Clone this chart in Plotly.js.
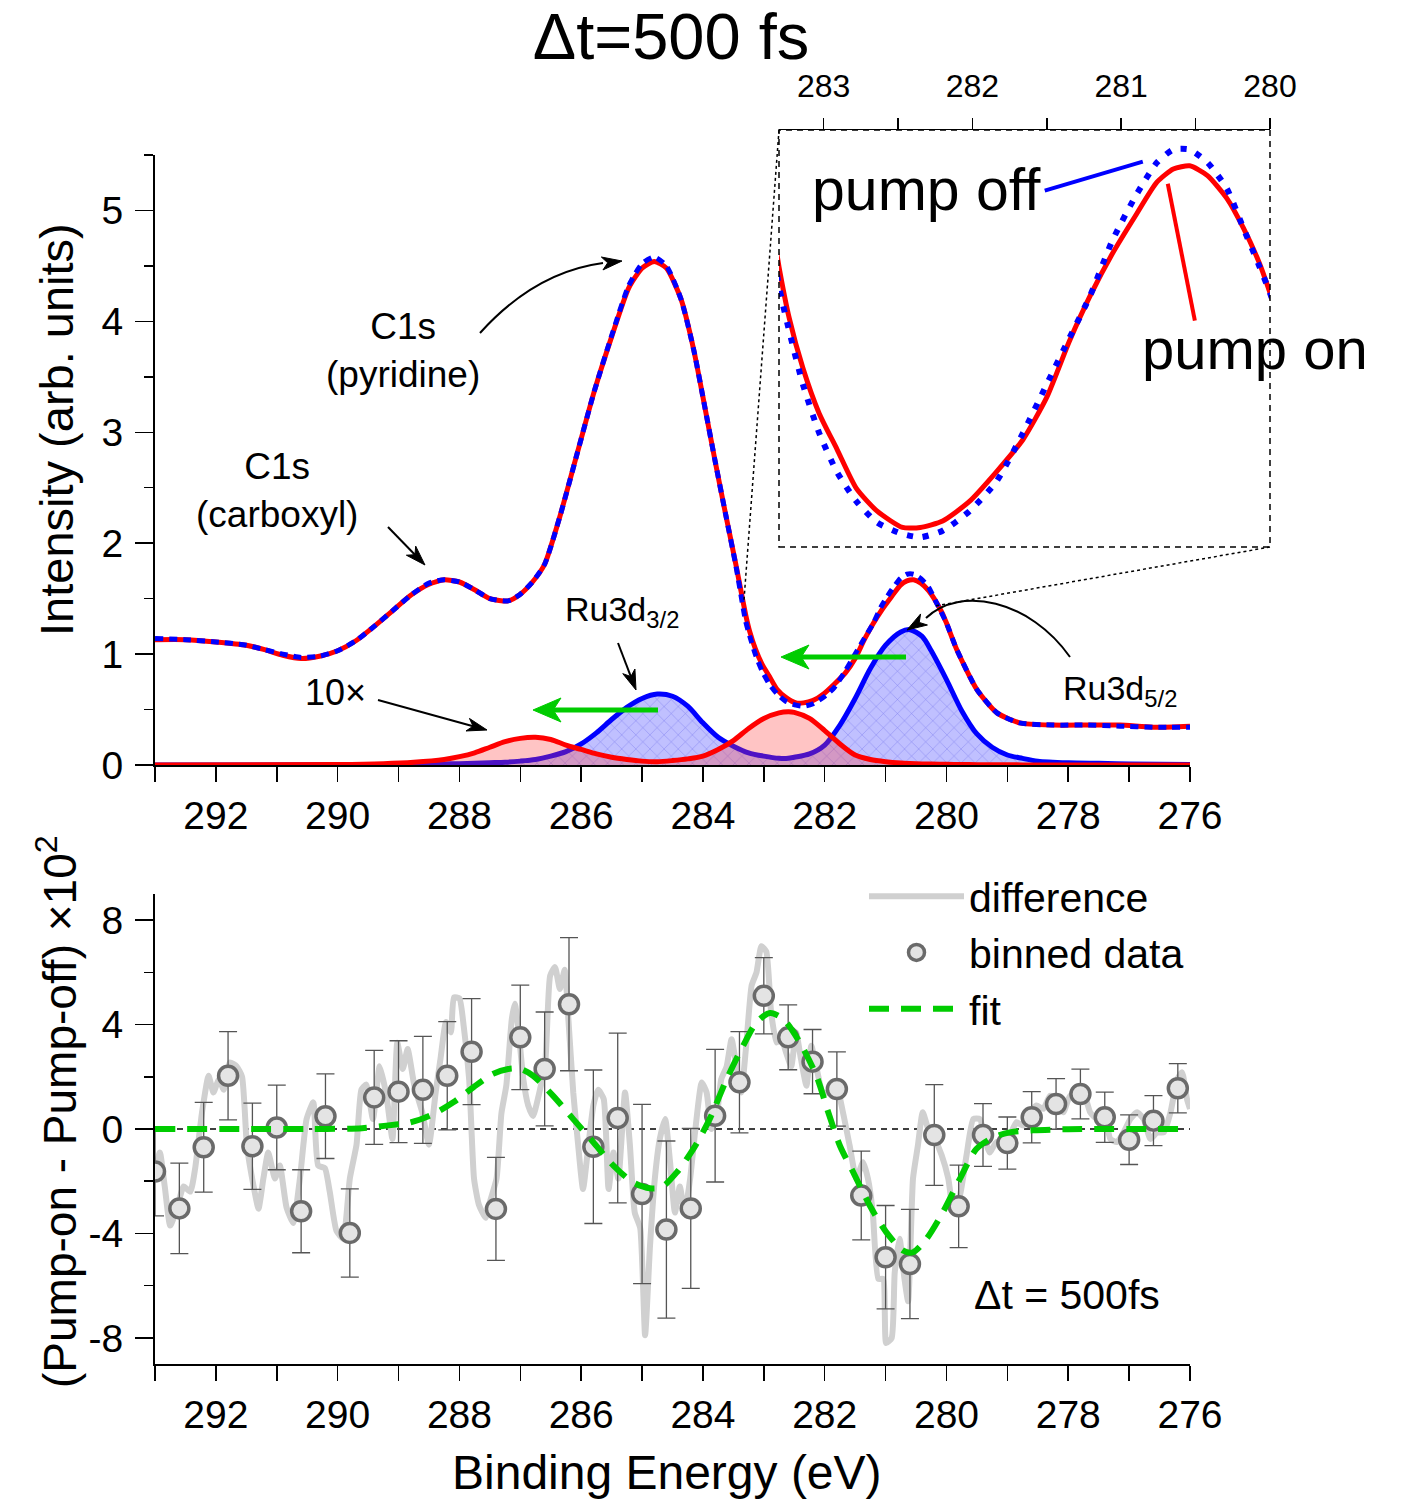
<!DOCTYPE html>
<html><head><meta charset="utf-8">
<script src="https://cdn.plot.ly/plotly-3.0.1.min.js"></script>
<style>body{margin:0;background:#fff}#chart{width:1407px;height:1500px}</style>
</head><body><div id="chart"></div>
<script>
// ---------- DATA ----------
const energy = [293.0, 292.5, 292.0, 291.5, 291.2, 290.9, 290.6, 290.3, 290.0, 289.7, 289.4, 289.1, 288.8, 288.5, 288.25, 288.0, 287.75, 287.5, 287.2, 287.0, 286.8, 286.6, 286.35, 286.07, 285.79, 285.5, 285.22, 285.0, 284.8, 284.6, 284.36, 284.15, 283.97, 283.8, 283.62, 283.46, 283.30, 283.23, 283.14, 283.03, 282.91, 282.78, 282.64, 282.47, 282.35, 282.20, 282.02, 281.84, 281.66, 281.50, 281.35, 281.21, 281.06, 280.90, 280.76, 280.65, 280.54, 280.42, 280.29, 280.18, 280.07, 280.0, 279.83, 279.5, 279.17, 278.8, 278.25, 277.7, 277.15, 276.6, 276.0];
const pumpOn = [1.13, 1.13, 1.11, 1.08, 1.04, 0.99, 0.96, 0.98, 1.03, 1.12, 1.25, 1.39, 1.53, 1.63, 1.67, 1.65, 1.58, 1.50, 1.48, 1.54, 1.65, 1.81, 2.24, 2.80, 3.36, 3.86, 4.30, 4.48, 4.54, 4.48, 4.20, 3.74, 3.23, 2.74, 2.24, 1.81, 1.36, 1.20, 1.05, 0.91, 0.80, 0.68, 0.61, 0.56, 0.56, 0.58, 0.64, 0.73, 0.83, 0.96, 1.13, 1.27, 1.40, 1.52, 1.62, 1.66, 1.67, 1.64, 1.57, 1.48, 1.37, 1.28, 1.04, 0.68, 0.47, 0.38, 0.36, 0.36, 0.36, 0.34, 0.35];
const pumpOff = [1.14, 1.13, 1.11, 1.08, 1.04, 1.00, 0.97, 0.98, 1.03, 1.12, 1.25, 1.39, 1.53, 1.64, 1.67, 1.65, 1.58, 1.50, 1.48, 1.54, 1.65, 1.81, 2.24, 2.80, 3.36, 3.87, 4.32, 4.52, 4.58, 4.50, 4.20, 3.74, 3.23, 2.74, 2.24, 1.80, 1.30, 1.16, 1.00, 0.85, 0.73, 0.64, 0.575, 0.54, 0.53, 0.55, 0.61, 0.70, 0.85, 1.00, 1.14, 1.27, 1.44, 1.58, 1.68, 1.72, 1.72, 1.68, 1.60, 1.48, 1.36, 1.28, 1.04, 0.68, 0.47, 0.38, 0.36, 0.36, 0.35, 0.34, 0.34];

const compEnergy = [293, 290, 289.25, 288.75, 288.25, 288, 287.75, 287.5, 287.25, 287, 286.75, 286.5, 286.25, 286, 285.75, 285.5, 285.25, 285, 284.75, 284.5, 284.25, 284, 283.75, 283.5, 283.25, 283, 282.75, 282.6, 282.5, 282.25, 282, 281.75, 281.5, 281.25, 281, 280.75, 280.6, 280.4, 280.25, 280, 279.75, 279.5, 279.25, 279, 278.75, 278.5, 278, 277.5, 277, 276];
const ru3dPumpOff = [0, 0.002, 0.004, 0.006, 0.01, 0.012, 0.015, 0.02, 0.025, 0.035, 0.05, 0.08, 0.12, 0.19, 0.29, 0.41, 0.52, 0.60, 0.64, 0.62, 0.53, 0.38, 0.25, 0.17, 0.11, 0.08, 0.06, 0.06, 0.07, 0.10, 0.18, 0.36, 0.60, 0.87, 1.08, 1.20, 1.22, 1.16, 1.03, 0.77, 0.49, 0.28, 0.16, 0.09, 0.06, 0.035, 0.02, 0.015, 0.01, 0.005];
const ru3dPumpOn10x = [0, 0.004, 0.012, 0.025, 0.05, 0.075, 0.11, 0.16, 0.21, 0.24, 0.25, 0.23, 0.18, 0.14, 0.10, 0.07, 0.05, 0.035, 0.03, 0.04, 0.055, 0.08, 0.14, 0.22, 0.33, 0.42, 0.47, 0.48, 0.475, 0.42, 0.31, 0.19, 0.09, 0.05, 0.03, 0.018, 0.014, 0.01, 0.008, 0.006, 0.004, 0.003, 0.002, 0.002, 0.001, 0.001, 0, 0, 0, 0];

const diffEnergy = [293.0, 292.92, 292.84, 292.75, 292.64, 292.53, 292.42, 292.34, 292.23, 292.12, 292.04, 291.95, 291.87, 291.77, 291.66, 291.57, 291.49, 291.38, 291.30, 291.22, 291.14, 291.03, 290.95, 290.84, 290.73, 290.62, 290.51, 290.40, 290.32, 290.21, 290.13, 290.02, 289.91, 289.80, 289.69, 289.61, 289.53, 289.42, 289.31, 289.20, 289.10, 289.02, 288.93, 288.85, 288.74, 288.61, 288.50, 288.39, 288.31, 288.22, 288.14, 288.09, 288.00, 287.93, 287.84, 287.76, 287.68, 287.57, 287.50, 287.39, 287.31, 287.23, 287.14, 287.09, 287.03, 286.95, 286.87, 286.79, 286.70, 286.59, 286.51, 286.43, 286.35, 286.27, 286.21, 286.13, 286.05, 285.97, 285.88, 285.80, 285.72, 285.63, 285.55, 285.47, 285.39, 285.28, 285.20, 285.12, 285.03, 284.95, 284.87, 284.79, 284.71, 284.62, 284.54, 284.46, 284.38, 284.30, 284.21, 284.13, 284.02, 283.94, 283.86, 283.78, 283.70, 283.61, 283.53, 283.45, 283.37, 283.29, 283.20, 283.12, 283.04, 282.96, 282.88, 282.79, 282.71, 282.63, 282.55, 282.47, 282.39, 282.30, 282.22, 282.14, 282.03, 281.92, 281.81, 281.70, 281.59, 281.48, 281.37, 281.29, 281.21, 281.12, 281.04, 280.99, 280.90, 280.85, 280.77, 280.69, 280.63, 280.55, 280.47, 280.39, 280.30, 280.19, 280.08, 279.97, 279.89, 279.78, 279.67, 279.56, 279.45, 279.37, 279.29, 279.18, 279.07, 278.96, 278.85, 278.74, 278.63, 278.52, 278.41, 278.30, 278.19, 278.08, 277.97, 277.86, 277.75, 277.64, 277.53, 277.42, 277.31, 277.20, 277.09, 276.98, 276.87, 276.76, 276.65, 276.54, 276.43, 276.32, 276.21, 276.13, 276.05, 276.00];
const diffSignal = [-1.6, -0.9, -2.2, -3.7, -3.05, -2.2, -2.4, -1.5, 0.6, 2.04, 1.4, 1.9, 1.5, 2.55, 2.4, 2.0, -0.64, -2.2, -3.05, -1.9, -0.9, -1.9, -1.4, -3.0, -3.6, -1.9, 0.38, 1.02, -1.4, -1.5, -2.4, -3.9, -4.2, -1.9, -0.6, 1.5, 1.7, 0.38, 2.4, 1.3, -0.38, 3.3, 2.3, 3.06, 1.66, 0.64, -0.6, 1.4, 2.7, 4.1, 3.7, 5.04, 5.0, 3.95, 1.9, -1.9, -2.9, -3.4, -2.8, -1.9, 0.6, 1.66, 4.2, 4.8, 3.8, 1.9, 0.9, 0.5, 1.27, 2.55, 5.87, 6.2, 5.36, 6.1, 4.2, 1.4, -0.6, -2.3, -0.6, 0.9, 1.5, 1.15, -2.3, -0.9, -1.9, 1.4, -0.6, -3.2, -3.8, -7.9, -4.5, -1.9, -0.4, 0.38, -1.27, -3.2, -2.2, -3.2, -1.9, -0.13, 1.78, 1.4, 0, 0.38, 1.9, 2.4, 3.44, 2.4, 1.4, 3.19, 5.5, 6.0, 7.0, 6.8, 4.46, 3.31, 3.44, 2.9, 2.4, 3.7, 2.68, 1.66, 3.19, 2.4, 1.4, 1.4, 1.66, 0.64, -0.64, -1.9, -1.27, -1.9, -3.2, -5.74, -5.74, -8.2, -8.0, -5.5, -4.2, -5.74, -6.6, -1.9, -0.64, 0.64, 0, -0.4, -1.0, -1.9, -3.06, -2.55, -1.0, 0.38, 0.38, -0.38, -0.9, -0.5, -0.64, -0.26, 0.26, 0.13, 0.64, 0.9, 0.77, 1.27, 1.15, 0.64, 1.27, 1.15, 1.4, 0.64, 0.38, 0.77, -0.38, -0.5, -0.13, 0.38, 0.64, 0.38, -0.38, -0.13, -0.13, 0.64, 1.9, 2.17, 1.15, 0.77];

const binEnergy = [293.0, 292.6, 292.2, 291.8, 291.4, 291.0, 290.6, 290.2, 289.8, 289.4, 289.0, 288.6, 288.2, 287.8, 287.4, 287.0, 286.6, 286.2, 285.8, 285.4, 285.0, 284.6, 284.2, 283.8, 283.4, 283.0, 282.6, 282.2, 281.8, 281.4, 281.0, 280.6, 280.2, 279.8, 279.4, 279.0, 278.6, 278.2, 277.8, 277.4, 277.0, 276.6, 276.2];
const binValue = [-1.63, -3.04, -0.70, 2.04, -0.66, 0.06, -3.15, 0.49, -3.98, 1.21, 1.43, 1.50, 2.04, 2.96, -3.06, 3.51, 2.30, 4.78, -0.68, 0.42, -2.49, -3.85, -3.04, 0.51, 1.79, 5.10, 3.51, 2.58, 1.53, -2.55, -4.91, -5.17, -0.23, -2.96, -0.23, -0.54, 0.45, 0.96, 1.34, 0.45, -0.41, 0.32, 1.56];
const binError = [1.70, 1.73, 1.72, 1.69, 1.65, 1.62, 1.59, 1.62, 1.69, 1.80, 1.95, 2.05, 2.07, 2.03, 1.97, 2.00, 2.18, 2.55, 2.94, 3.25, 3.43, 3.39, 3.06, 2.54, 1.94, 1.46, 1.24, 1.23, 1.42, 1.70, 1.98, 2.09, 1.93, 1.58, 1.20, 1.00, 0.98, 0.97, 0.95, 0.96, 0.95, 0.96, 0.94];

const fitEnergy = [293.0, 290.5, 289.6, 289.2, 288.81, 288.43, 288.10, 287.77, 287.45, 287.2, 287.0, 286.79, 286.46, 286.13, 285.80, 285.47, 285.15, 284.87, 284.68, 284.43, 284.16, 283.89, 283.61, 283.34, 283.12, 282.90, 282.68, 282.41, 282.13, 281.95, 281.75, 281.53, 281.26, 280.99, 280.71, 280.55, 280.33, 280.06, 279.78, 279.51, 279.23, 278.96, 278.58, 278.0, 276.0];
const fitValue = [0, 0, 0.03, 0.13, 0.25, 0.57, 1.02, 1.60, 2.11, 2.30, 2.30, 2.04, 1.27, 0.38, -0.51, -1.40, -2.04, -2.27, -2.23, -1.66, -0.77, 0.38, 1.91, 3.19, 4.08, 4.44, 4.21, 3.32, 2.0, 0.7, -0.64, -1.66, -2.93, -3.95, -4.66, -4.72, -4.21, -3.19, -1.91, -0.77, -0.32, -0.13, -0.05, -0.01, 0];

const mainTicks = [292, 290, 288, 286, 284, 282, 280, 278, 276];
const topYTicks = [0, 1, 2, 3, 4, 5];
const diffYTicks = [8, 4, 0, -4, -8];
const insetTicks = [283, 282, 281, 280];

// ---------- STYLE / LAYOUT HELPERS ----------
const FONT = 'Liberation Sans, Arial, Helvetica, sans-serif';
const W = 1407, H = 1500;
const px = v => v / W;
const py = v => 1 - v / H;
const GREEN = '#00cc00';
const P = (x, y) => px(x).toFixed(5) + ',' + py(y).toFixed(5);

// arrow drawn in page pixels: tail (x0,y0) -> head (x1,y1)
function arrow(x0, y0, x1, y1, color, width, hl, hw) {
  const dx = x1 - x0, dy = y1 - y0, L = Math.hypot(dx, dy);
  const ux = dx / L, uy = dy / L, nx = -uy, ny = ux;
  const bx = x1 - ux * hl, by = y1 - uy * hl;
  const mx = x1 - ux * hl * 0.72, my = y1 - uy * hl * 0.72;
  return [
    {type: 'path', xref: 'paper', yref: 'paper', path: 'M' + P(x0, y0) + ' L' + P(mx, my),
     line: {color: color, width: width}},
    {type: 'path', xref: 'paper', yref: 'paper',
     path: 'M' + P(x1, y1) + ' L' + P(bx + nx * hw / 2, by + ny * hw / 2) + ' L' + P(mx, my) + ' L' + P(bx - nx * hw / 2, by - ny * hw / 2) + ' Z',
     fillcolor: color, line: {color: color, width: 1}}
  ];
}
function curvedArrow(d, hx0, hy0, hx1, hy1, color, width, hl, hw) {
  const s = arrow(hx0, hy0, hx1, hy1, color, width, hl, hw);
  return [{type: 'path', xref: 'paper', yref: 'paper', path: d, line: {color: color, width: width}}, s[1]];
}

const traces = [
  {x: compEnergy, y: ru3dPumpOff, xaxis: 'x', yaxis: 'y', type: 'scatter', mode: 'lines',
   line: {color: '#0000ff', width: 5, shape: 'spline', smoothing: 0.8}, fill: 'tozeroy',
   fillcolor: 'rgba(130,130,255,0.5)',
   fillpattern: {shape: 'x', bgcolor: 'rgba(165,165,255,0.7)', fgcolor: 'rgba(70,70,225,0.6)', size: 10, solidity: 0.08},
   showlegend: false, hoverinfo: 'skip'},
  {x: compEnergy, y: ru3dPumpOn10x, xaxis: 'x', yaxis: 'y', type: 'scatter', mode: 'lines',
   line: {color: '#ff0000', width: 5, shape: 'spline', smoothing: 0.8}, fill: 'tozeroy',
   fillcolor: 'rgba(255,60,60,0.3)', showlegend: false, hoverinfo: 'skip'},
  {x: energy, y: pumpOn, xaxis: 'x', yaxis: 'y', type: 'scatter', mode: 'lines',
   line: {color: '#ff0000', width: 5, shape: 'spline', smoothing: 0.6}, showlegend: false, hoverinfo: 'skip'},
  {x: energy, y: pumpOff, xaxis: 'x', yaxis: 'y', type: 'scatter', mode: 'lines',
   line: {color: '#0000ff', width: 5, dash: '8px,6px', shape: 'spline', smoothing: 0.6}, showlegend: false, hoverinfo: 'skip'},
  {x: energy, y: pumpOn, xaxis: 'x3', yaxis: 'y3', type: 'scatter', mode: 'lines',
   line: {color: '#ff0000', width: 5, shape: 'spline', smoothing: 0.6}, showlegend: false, hoverinfo: 'skip'},
  {x: energy, y: pumpOff, xaxis: 'x3', yaxis: 'y3', type: 'scatter', mode: 'lines',
   line: {color: '#0000ff', width: 6, dash: '6px,10px', shape: 'spline', smoothing: 0.6}, showlegend: false, hoverinfo: 'skip'},
  {x: diffEnergy, y: diffSignal, xaxis: 'x2', yaxis: 'y2', type: 'scatter', mode: 'lines', name: 'difference',
   line: {color: '#d0d0d0', width: 6, shape: 'spline', smoothing: 0.5}, hoverinfo: 'skip'},
  {x: binEnergy, y: binValue, xaxis: 'x2', yaxis: 'y2', type: 'scatter', mode: 'markers', name: 'binned data',
   marker: {symbol: 'circle', size: 19, color: '#e4e4e4', line: {color: '#6a6a6a', width: 3.5}},
   error_y: {type: 'data', array: binError, visible: true, color: '#555555', thickness: 1.3, width: 9}, hoverinfo: 'skip'},
  {x: fitEnergy, y: fitValue, xaxis: 'x2', yaxis: 'y2', type: 'scatter', mode: 'lines', name: 'fit',
   line: {color: GREEN, width: 6, dash: '20px,12px', shape: 'spline', smoothing: 0.8}, hoverinfo: 'skip'}
];

const axisCommon = {
  showline: true, linecolor: '#000', linewidth: 2, ticks: 'outside', tickcolor: '#000', tickwidth: 1.5,
  showgrid: false, zeroline: false, tickfont: {family: FONT, size: 39, color: '#000'}
};
const xMinor = {dtick: 1, tick0: 276, ticklen: 15, ticks: 'outside', tickcolor: '#000', tickwidth: 1.5};

const shapes = [
  {type: 'rect', xref: 'paper', yref: 'paper', x0: px(779), x1: px(1270), y0: py(547), y1: py(130),
   line: {color: '#000', width: 1.5, dash: '6px,5px'}},
  {type: 'line', xref: 'paper', yref: 'paper', x0: px(779), y0: py(130), x1: px(744), y1: py(600),
   line: {color: '#000', width: 1.5, dash: 'dot'}},
  {type: 'line', xref: 'paper', yref: 'paper', x0: px(1270), y0: py(547), x1: px(935), y1: py(606),
   line: {color: '#000', width: 1.5, dash: 'dot'}},
  {type: 'line', xref: 'x2 domain', yref: 'y2', x0: 0, x1: 1, y0: 0, y1: 0, layer: 'below',
   line: {color: '#000', width: 1.5, dash: '6px,5px'}},
  {type: 'line', xref: 'x3', yref: 'y3', x0: 281.514, y0: 1.594, x1: 280.855, y1: 1.683, line: {color: '#0000ff', width: 4}},
  {type: 'line', xref: 'x3', yref: 'y3', x0: 280.687, y0: 1.615, x1: 280.505, y1: 1.195, line: {color: '#ff0000', width: 4}}
].concat(
  arrow(388, 527, 425, 565, '#000', 2, 20, 13),
  arrow(378, 700, 487, 730, '#000', 2, 20, 13),
  arrow(618, 643, 636, 690, '#000', 2, 20, 13),
  curvedArrow('M' + P(480, 333) + ' Q' + P(535, 272) + ' ' + P(603, 263), 598, 264, 622, 261, '#000', 2, 20, 13),
  curvedArrow('M' + P(1070, 657) + ' C' + P(1030, 600) + ' ' + P(960, 585) + ' ' + P(926, 618), 928, 617, 907, 630, '#000', 2, 20, 13),
  arrow(658, 710, 533, 710, GREEN, 5, 28, 24),
  arrow(906, 657, 781, 657, GREEN, 5, 28, 24)
);

const ann = (text, x, y, size, extra) => Object.assign({text: text, xref: 'paper', yref: 'paper', x: px(x), y: py(y),
  showarrow: false, font: {family: FONT, size: size, color: '#000'}, xanchor: 'center', yanchor: 'middle'}, extra || {});

const layout = {
  width: W, height: H,
  margin: {l: 0, r: 0, t: 0, b: 0},
  paper_bgcolor: '#fff', plot_bgcolor: 'rgba(0,0,0,0)',
  font: {family: FONT, color: '#000'},
  title: {text: 'Δt=500 fs', font: {family: FONT, size: 65, color: '#000'}, x: px(671), xanchor: 'center', y: py(36), yanchor: 'middle'},
  xaxis: Object.assign({}, axisCommon, {domain: [px(155), px(1190)], anchor: 'y', range: [293, 276],
    tickmode: 'array', tickvals: mainTicks, ticktext: mainTicks.map(String), ticklen: 15, minor: xMinor}),
  yaxis: Object.assign({}, axisCommon, {domain: [py(765), py(155)], anchor: 'x', range: [0, 5.5],
    tickmode: 'array', tickvals: topYTicks, ticktext: topYTicks.map(String), ticklen: 18, ticklabelstandoff: 4,
    minor: {dtick: 0.5, tick0: 0, ticklen: 9, ticks: 'outside', tickcolor: '#000', tickwidth: 1.5}}),
  xaxis2: Object.assign({}, axisCommon, {domain: [px(155), px(1190)], anchor: 'y2', range: [293, 276],
    tickmode: 'array', tickvals: mainTicks, ticktext: mainTicks.map(String), ticklen: 15, minor: xMinor}),
  yaxis2: Object.assign({}, axisCommon, {domain: [py(1364), py(894)], anchor: 'x2', range: [-9, 9],
    tickmode: 'array', tickvals: diffYTicks, ticktext: diffYTicks.map(String), ticklen: 18, ticklabelstandoff: 4,
    minor: {dtick: 2, tick0: 0, ticklen: 9, ticks: 'outside', tickcolor: '#000', tickwidth: 1.5}}),
  xaxis3: Object.assign({}, axisCommon, {domain: [px(779), px(1270)], anchor: 'y3', side: 'top', range: [283.3, 280],
    tickmode: 'array', tickvals: insetTicks, ticktext: insetTicks.map(String), ticklen: 11, linewidth: 1.5,
    ticklabelstandoff: 8, tickfont: {family: FONT, size: 32, color: '#000'},
    minor: {dtick: 0.5, tick0: 280, ticklen: 11, ticks: 'outside', tickcolor: '#000', tickwidth: 1.5}}),
  yaxis3: {domain: [py(547), py(130)], anchor: 'x3', range: [0.50, 1.78], visible: false, showgrid: false, zeroline: false},
  showlegend: true,
  legend: {x: px(864), y: py(863), xanchor: 'left', yanchor: 'top', bgcolor: 'rgba(0,0,0,0)',
    font: {family: FONT, size: 41, color: '#000'}, itemwidth: 95, traceorder: 'normal', tracegroupgap: 0},
  shapes: shapes,
  annotations: [
    ann('Intensity (arb. units)', 57, 430, 47, {textangle: -90}),
    ann('(Pump-on - Pump-off) ×10<sup>2</sup>', 57, 1112, 46, {textangle: -90}),
    ann('Binding Energy (eV)', 667, 1472, 48),
    ann('C1s<br>(carboxyl)', 277, 490, 37),
    ann('C1s<br>(pyridine)', 403, 350, 37),
    ann('Ru3d<sub>3/2</sub>', 622, 612, 34),
    ann('Ru3d<sub>5/2</sub>', 1120, 690, 34),
    ann('10×', 335, 692, 36),
    ann('pump off', 927, 190, 59),
    ann('pump on', 1255, 348, 58),
    ann('Δt = 500fs', 1067, 1295, 41)
  ]
};

Plotly.newPlot('chart', traces, layout, {staticPlot: true, displayModeBar: false});
</script>
</body></html>
